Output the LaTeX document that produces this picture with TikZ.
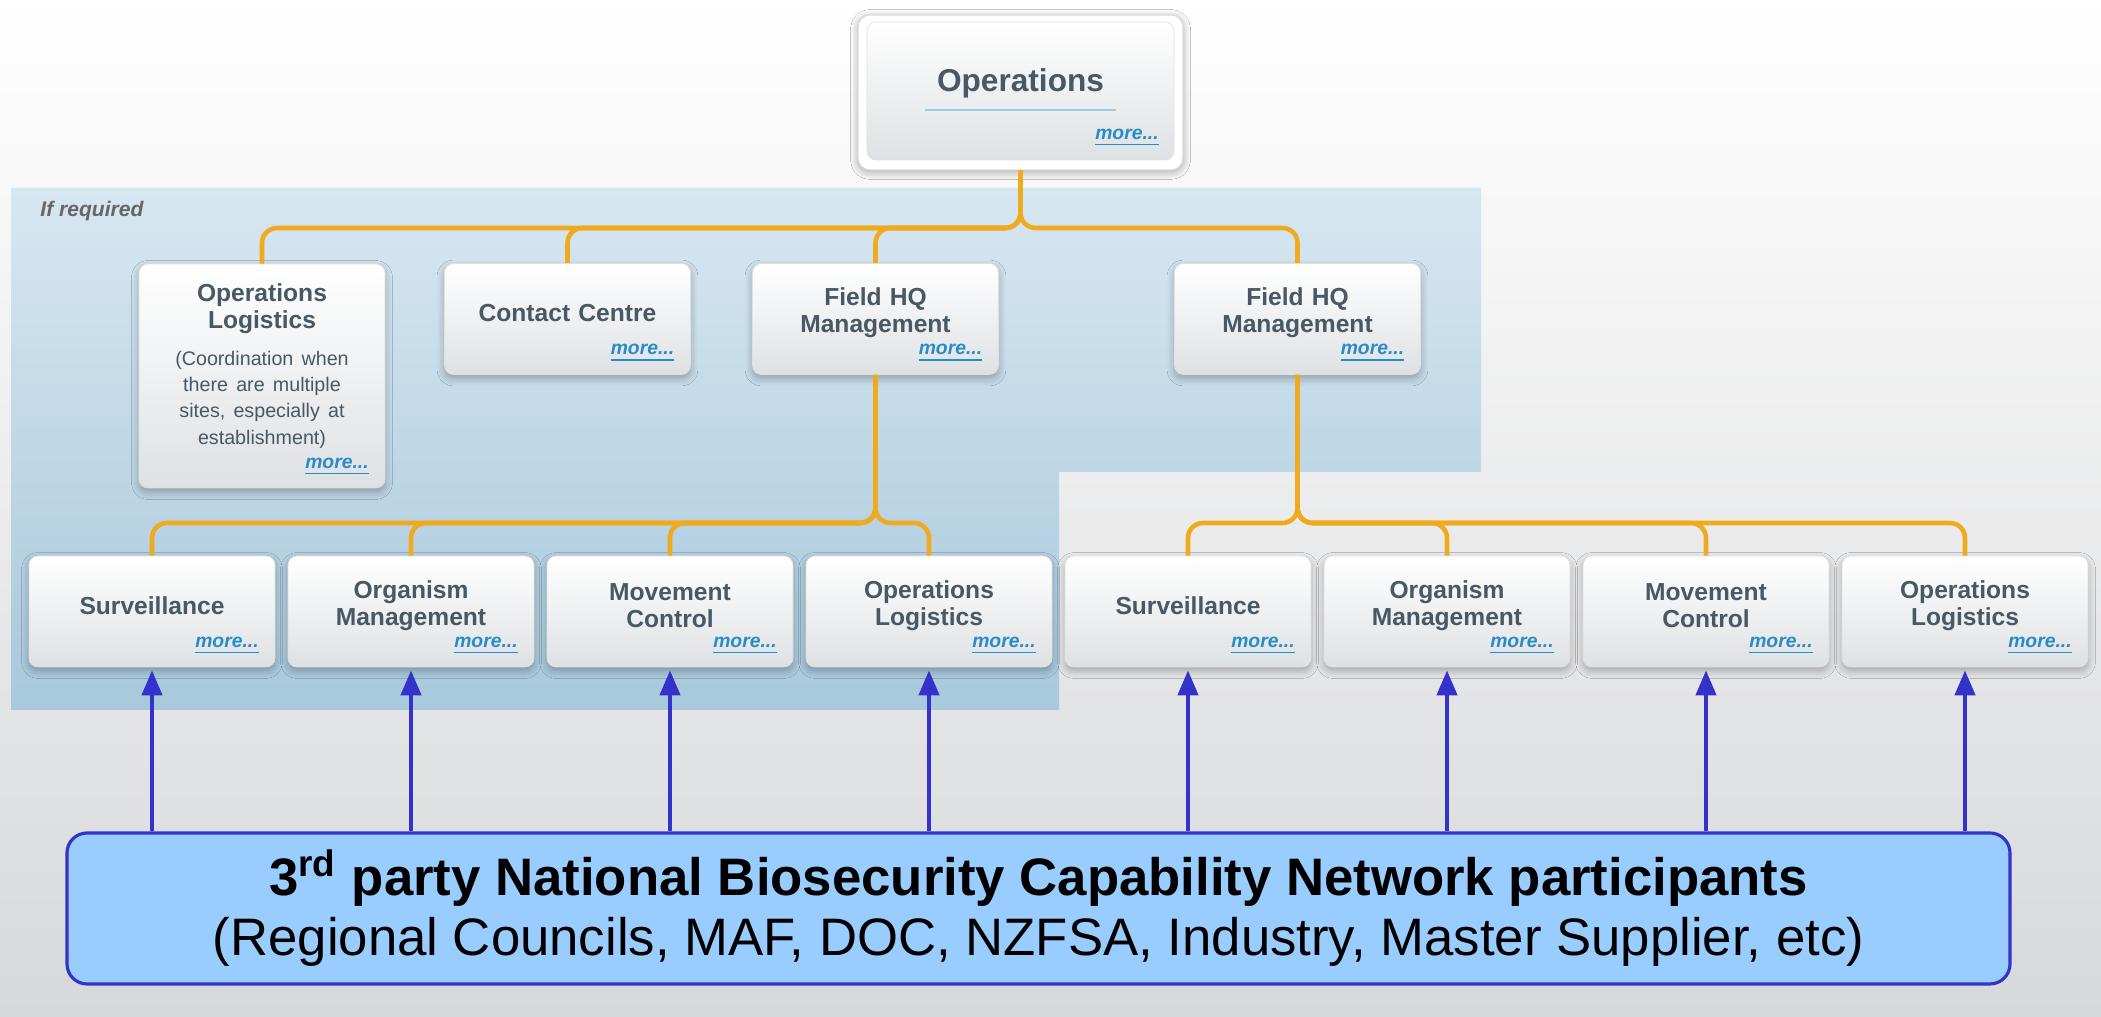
\documentclass[tikz,border=0pt]{standalone}
\usepackage{fontspec}
\setmainfont{Liberation Sans}
\usetikzlibrary{arrows.meta,shadows.blur}

\definecolor{cardtext}{RGB}{72,88,100}
\definecolor{linkblue}{RGB}{40,140,200}
\definecolor{busgold}{RGB}{240,170,30}
\definecolor{netblue}{RGB}{51,51,204}
\definecolor{netfill}{RGB}{153,204,255}
\definecolor{zonetop}{RGB}{215,231,241}
\definecolor{zonebot}{RGB}{168,200,220}
\definecolor{canvasbot}{RGB}{215,216,218}
\definecolor{cardbot}{RGB}{222,225,228}
\definecolor{rulecol}{RGB}{160,200,225}

\newcommand{\subnote}{\fontsize{5.6}{7.4}\selectfont\mdseries}

\tikzset{
  panel/.style={rounded corners=0.09cm, top color=white, bottom color=cardbot,
    draw=white!88!black, line width=0.2pt},
  card/.style={panel,
    blur shadow={shadow xshift=0pt, shadow yshift=-0.04cm, shadow blur steps=6, shadow opacity=28},
    minimum width=2.46cm, minimum height=1.11cm, text width=2.2cm, align=center,
    font=\fontsize{7}{7.7}\selectfont\bfseries, text=cardtext, inner sep=0pt,
    execute at end node={\par\vspace{0.12cm}}},
  opsframe/.style={rounded corners=0.12cm, fill=white, draw=white!85!black, line width=0.3pt,
    minimum width=3.25cm, minimum height=1.55cm,
    blur shadow={shadow xshift=0pt, shadow yshift=-0.02cm, shadow blur steps=8, shadow opacity=35}},
  opstitle/.style={font=\fontsize{9}{10}\selectfont\bfseries, text=cardtext},
  titlerule/.style={draw=rulecol, line width=0.5pt},
  morelink/.style={font=\fontsize{5.5}{6}\selectfont\bfseries\itshape, text=linkblue,
    anchor=south east, inner sep=0pt},
  zonelabel/.style={font=\fontsize{6}{7}\selectfont\bfseries\itshape, text=black!60, anchor=west},
  bus/.style={draw=busgold, line width=1.3pt, rounded corners=0.15cm},
  netbox/.style={draw=netblue, fill=netfill, line width=0.9pt, rounded corners=0.2cm,
    minimum width=19.43cm, minimum height=1.51cm, align=center, inner sep=0pt,
    font=\fontsize{15}{17.3}\selectfont},
  feed/.style={draw=netblue, line width=1.2pt, -{Triangle[length=0.25cm,width=0.2cm]},
    shorten >=0.03cm},
}

\begin{document}
\begin{tikzpicture}
  % canvas and the shaded zone
  \useasboundingbox (0,0) rectangle (21.01,10.17);
  \shade[top color=white, bottom color=canvasbot] (0,0) rectangle (21.01,10.17);
  \shade[top color=zonetop, bottom color=zonebot]
    (0.11,8.29) -- (14.81,8.29) -- (14.81,5.45) -- (10.59,5.45) -- (10.59,3.07) -- (0.11,3.07) -- cycle;
  \node[zonelabel] (ifreq) at (0.28,8.06) {If required};

  % top card
  \node[opsframe] (ops) at (10.205,9.245) {};
  \node[panel, minimum width=3.07cm, minimum height=1.38cm] (opsbox) at (10.205,9.26) {};
  \node[opstitle] (opstitle) at (10.205,9.34) {Operations};
  \draw[titlerule] (opstitle.south west) -- (opstitle.south east);

  % first level
  \node[card, minimum height=2.24cm, execute at end node={\par\vspace{0.08cm}}] (ol) at (2.62,6.41)
    {Operations\\Logistics\\[3pt]{\subnote (Coordination when\\there are multiple\\sites, especially at\\establishment)}};
  \node[card] (cc) at (5.675,6.98) {Contact Centre};
  \node[card] (fa) at (8.755,6.98) {Field HQ\\Management};
  \node[card] (fb) at (12.975,6.98) {Field HQ\\Management};

  % second level
  \foreach \txt [count=\i] in {Surveillance, Organism\\Management, Movement\\Control, Operations\\Logistics,
      Surveillance, Organism\\Management, Movement\\Control, Operations\\Logistics}
    \node[card] (u\i) at ({1.52+2.59*(\i-1)},4.055) {\txt};

  % more... links
  \node[morelink] (ops-more) at ([shift={(-0.15,0.13)}]opsbox.south east) {\underline{more...}};
  \foreach \n in {ol,cc,fa,fb,u1,u2,u3,u4,u5,u6,u7,u8}
    \node[morelink] (\n-more) at ([shift={(-0.16,0.12)}]\n.south east) {\underline{more...}};

  % connectors
  \coordinate (upper bus) at (0,7.89);
  \coordinate (lower bus) at (0,4.94);
  \foreach \n in {ol,cc,fa,fb}
    \draw[bus] (ops.south) -- (ops.south |- upper bus) -| (\n.north);
  \foreach \i in {1,...,4}
    \draw[bus] (fa.south) -- (fa.south |- lower bus) -| (u\i.north);
  \foreach \i in {5,...,8}
    \draw[bus] (fb.south) -- (fb.south |- lower bus) -| (u\i.north);

  % network participants
  \node[netbox] (net) at (10.385,1.085)
    {{\bfseries 3\textsuperscript{rd} party National Biosecurity Capability Network participants}\\
     (Regional Councils, MAF, DOC, NZFSA, Industry, Master Supplier, etc)};
  \foreach \i in {1,...,8}
    \draw[feed] (u\i.south |- net.north) -- (u\i.south);
\end{tikzpicture}
\end{document}
